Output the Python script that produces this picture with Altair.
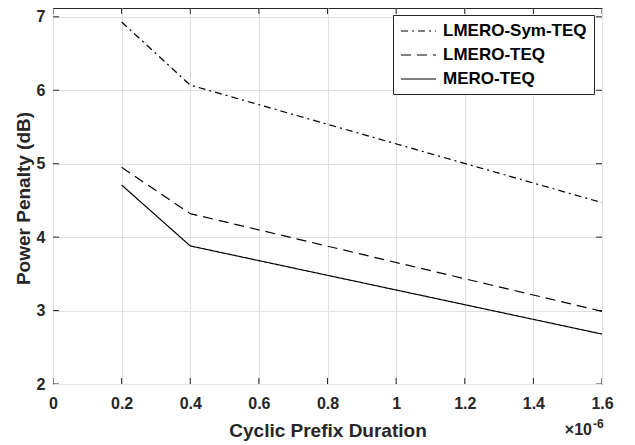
import altair as alt
import pandas as pd

# ---- data ----
series_names = ["LMERO-Sym-TEQ", "LMERO-TEQ", "MERO-TEQ"]
cp_duration = [0.2, 0.4, 1.6]          # x 10^-6 s
lmero_sym_teq = [6.93, 6.07, 4.47]
lmero_teq = [4.95, 4.32, 2.99]
mero_teq = [4.71, 3.88, 2.68]

x_tick_values = [0, 0.2, 0.4, 0.6, 0.8, 1.0, 1.2, 1.4, 1.6]
y_tick_values = [2, 3, 4, 5, 6, 7]
x_domain = [0, 1.6]
y_domain = [2, 7.12]

rows = []
for name, ys in zip(series_names, [lmero_sym_teq, lmero_teq, mero_teq]):
    for xv, yv in zip(cp_duration, ys):
        rows.append({"x": xv, "y": yv, "series": name})
df = pd.DataFrame(rows)

FONT = "Liberation Sans"
AX = "#262626"

xs = alt.Scale(domain=x_domain, nice=False, zero=False)
ys = alt.Scale(domain=y_domain, nice=False, zero=False)

x_axis = alt.Axis(
    values=x_tick_values, format="~g", title="Cyclic Prefix Duration",
    labelPadding=11, labelFlush=False, titleY=52, titleBaseline="alphabetic",
    titleFontSize=19)
y_axis = alt.Axis(
    values=y_tick_values, format="d", title="Power Penalty (dB)",
    labelPadding=8, labelFlush=False, titleX=-24, titleY=190,
    titleBaseline="alphabetic", titleAlign="center", titleAngle=-90,
    titleFontSize=19)

X = alt.X("x:Q", scale=xs, axis=x_axis, title="Cyclic Prefix Duration")
Y = alt.Y("y:Q", scale=ys, axis=y_axis, title="Power Penalty (dB)")

lines = alt.Chart(df).mark_line(color="black", strokeWidth=1.2, clip=True).encode(
    x=X, y=Y,
    strokeDash=alt.StrokeDash(
        "series:N",
        scale=alt.Scale(domain=series_names, range=[[7, 4, 2, 4], [10, 6], [1, 0]]),
        legend=alt.Legend(
            title=None, orient="none", legendX=340, legendY=7,
            symbolType="M-1,0H3.375", symbolSize=256, symbolStrokeWidth=1.2,
            symbolStrokeColor="black", symbolFillColor="transparent",
            labelFont=FONT, labelFontSize=17,
            labelFontWeight="bold", labelColor="black", labelOffset=25,
            rowPadding=7, padding=7, fillColor="white", strokeColor=AX,
            cornerRadius=0, labelLimit=300),
    ),
)

xt = pd.DataFrame([{"x": v, "y": yy} for v in x_tick_values for yy in y_domain])
yt = pd.DataFrame([{"x": xx, "y": v} for v in y_tick_values for xx in x_domain])

xticks = alt.Chart(xt).mark_tick(orient="vertical", size=12, thickness=1,
                                 color=AX, clip=True, opacity=1).encode(x=X, y=Y)
yticks = alt.Chart(yt).mark_tick(orient="horizontal", size=12, thickness=1,
                                 color=AX, clip=True, opacity=1).encode(x=X, y=Y)

mult = alt.Chart(pd.DataFrame({"t": ["×10"]})).mark_text(
    font=FONT, fontSize=16, fontWeight="bold", color=AX, align="right",
    baseline="alphabetic").encode(x=alt.value(539), y=alt.value(427), text="t:N")
expo = alt.Chart(pd.DataFrame({"t": ["-6"]})).mark_text(
    font=FONT, fontSize=12, fontWeight="bold", color=AX, align="left",
    baseline="alphabetic").encode(x=alt.value(540), y=alt.value(420), text="t:N")

chart = alt.layer(xticks, yticks, lines, mult, expo).properties(
    width=549, height=376,
    autosize=alt.AutoSizeParams(type="none"),
    padding={"left": 45, "top": 0, "right": 25, "bottom": 60},
    background="white",
).configure_view(stroke=AX, strokeWidth=1).configure_axis(
    domain=False, ticks=False, tickSize=0, grid=True, gridColor="#dfdfdf",
    gridWidth=1, labelFont=FONT, labelFontWeight="bold", labelFontSize=16,
    labelColor=AX, titleFont=FONT, titleFontWeight="bold", titleColor=AX,
)

chart.save("out.html", embed_options={"renderer": "svg", "actions": False})
